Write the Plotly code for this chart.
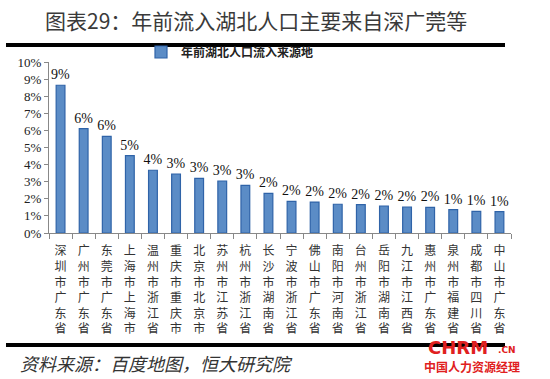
import plotly.graph_objects as go

cities = ["深圳市广东省", "广州市广东省", "东莞市广东省", "上海市上海市", "温州市浙江省",
          "重庆市重庆市", "北京市北京市", "苏州市江苏省", "杭州市浙江省", "长沙市湖南省",
          "宁波市浙江省", "佛山市广东省", "南阳市河南省", "台州市浙江省", "岳阳市湖南省",
          "九江市江西省", "惠州市广东省", "泉州市福建省", "成都市四川省", "中山市广东省"]
shares = [8.64, 6.10, 5.65, 4.52, 3.67, 3.45, 3.20, 3.04, 2.79, 2.32,
          1.85, 1.81, 1.68, 1.66, 1.58, 1.52, 1.50, 1.37, 1.26, 1.25]
y_ticks = [0, 1, 2, 3, 4, 5, 6, 7, 8, 9, 10]
y_tick_labels = [f"{v}%" for v in y_ticks]
series_name = "年前湖北人口流入来源地"
title_text = "图表29：年前流入湖北人口主要来自深广莞等"
source_text = "资料来源：百度地图，恒大研究院"

vertical_labels = ["<br>".join(list(c)) for c in cities]
bar_text = [f"{round(v)}%" for v in shares]

serif = "Liberation Serif, Times New Roman, Noto Sans CJK SC, serif"
cjk = "Noto Sans CJK SC, sans-serif"

fig = go.Figure()
fig.add_trace(go.Bar(
    x=vertical_labels, y=shares, name=f"<b>{series_name}</b>",
    text=bar_text, textposition="outside", cliponaxis=False, constraintext="none",
    textfont=dict(family=serif, size=14, color="#111"),
    marker=dict(color="#5B8CC6", line=dict(color="#2F63A8", width=1.2)),
    width=0.38,
))

L, R, T, B = 49, 39, 62, 146
W, H = 550, 379
pw, ph = W - L - R, H - T - B

def px(x):
    return (x - L) / pw

def py(y):
    return (H - B - y) / ph

fig.update_layout(
    width=W, height=H,
    margin=dict(l=L, r=R, t=T, b=B, pad=0, autoexpand=False),
    paper_bgcolor="white", plot_bgcolor="white",
    showlegend=True,
    legend=dict(orientation="h", x=px(230), xanchor="center", y=py(52), yanchor="middle",
                font=dict(family=cjk, size=12, color="#222"), bgcolor="rgba(0,0,0,0)",
                itemwidth=30, tracegroupgap=0),
    xaxis=dict(tickson="boundaries", ticks="outside", ticklen=5, tickcolor="#888",
               showline=True, linecolor="#888", linewidth=1, showgrid=False,
               ticklabelstandoff=7,
               tickfont=dict(family=cjk, size=12, color="#333"), tickangle=0),
    yaxis=dict(range=[0, 10], tickvals=y_ticks, ticktext=y_tick_labels,
               ticks="outside", ticklen=4, tickcolor="#888", showline=True,
               linecolor="#888", linewidth=1, showgrid=False, zeroline=False,
               tickfont=dict(family=serif, size=13, color="#222")),
    shapes=[
        dict(type="line", xref="paper", yref="paper", x0=px(6), x1=px(505), y0=py(45), y1=py(45),
             line=dict(color="black", width=4)),
        dict(type="line", xref="paper", yref="paper", x0=px(6), x1=px(505), y0=py(345), y1=py(345),
             line=dict(color="black", width=4)),
    ],
    annotations=[
        dict(text=title_text, xref="paper", yref="paper", x=px(256), y=py(20),
             xanchor="center", yanchor="middle", showarrow=False,
             font=dict(family=cjk, size=21, color="#3a3a3a")),
        dict(text=f"<i>{source_text}</i>", xref="paper", yref="paper", x=px(18), y=py(363),
             xanchor="left", yanchor="middle", showarrow=False,
             font=dict(family=cjk, size=18, color="#333")),
        dict(text="<b>CHRM</b>", xref="paper", yref="paper", x=px(458), y=py(347),
             xanchor="center", yanchor="middle", showarrow=False,
             font=dict(family="DejaVu Sans", size=18, color="#E02020")),
        dict(text="<b>.CN</b>", xref="paper", yref="paper", x=px(507), y=py(350),
             xanchor="center", yanchor="middle", showarrow=False,
             font=dict(family="DejaVu Sans", size=9, color="#E02020")),
        dict(text="<b>中国人力资源经理</b>", xref="paper", yref="paper", x=px(472), y=py(366),
             xanchor="center", yanchor="middle", showarrow=False,
             font=dict(family=cjk, size=12, color="#E02020")),
    ],
)

fig.write_html("out.html", config={"displayModeBar": False},
               post_script="document.body.style.margin='0';document.body.style.overflow='hidden';")
